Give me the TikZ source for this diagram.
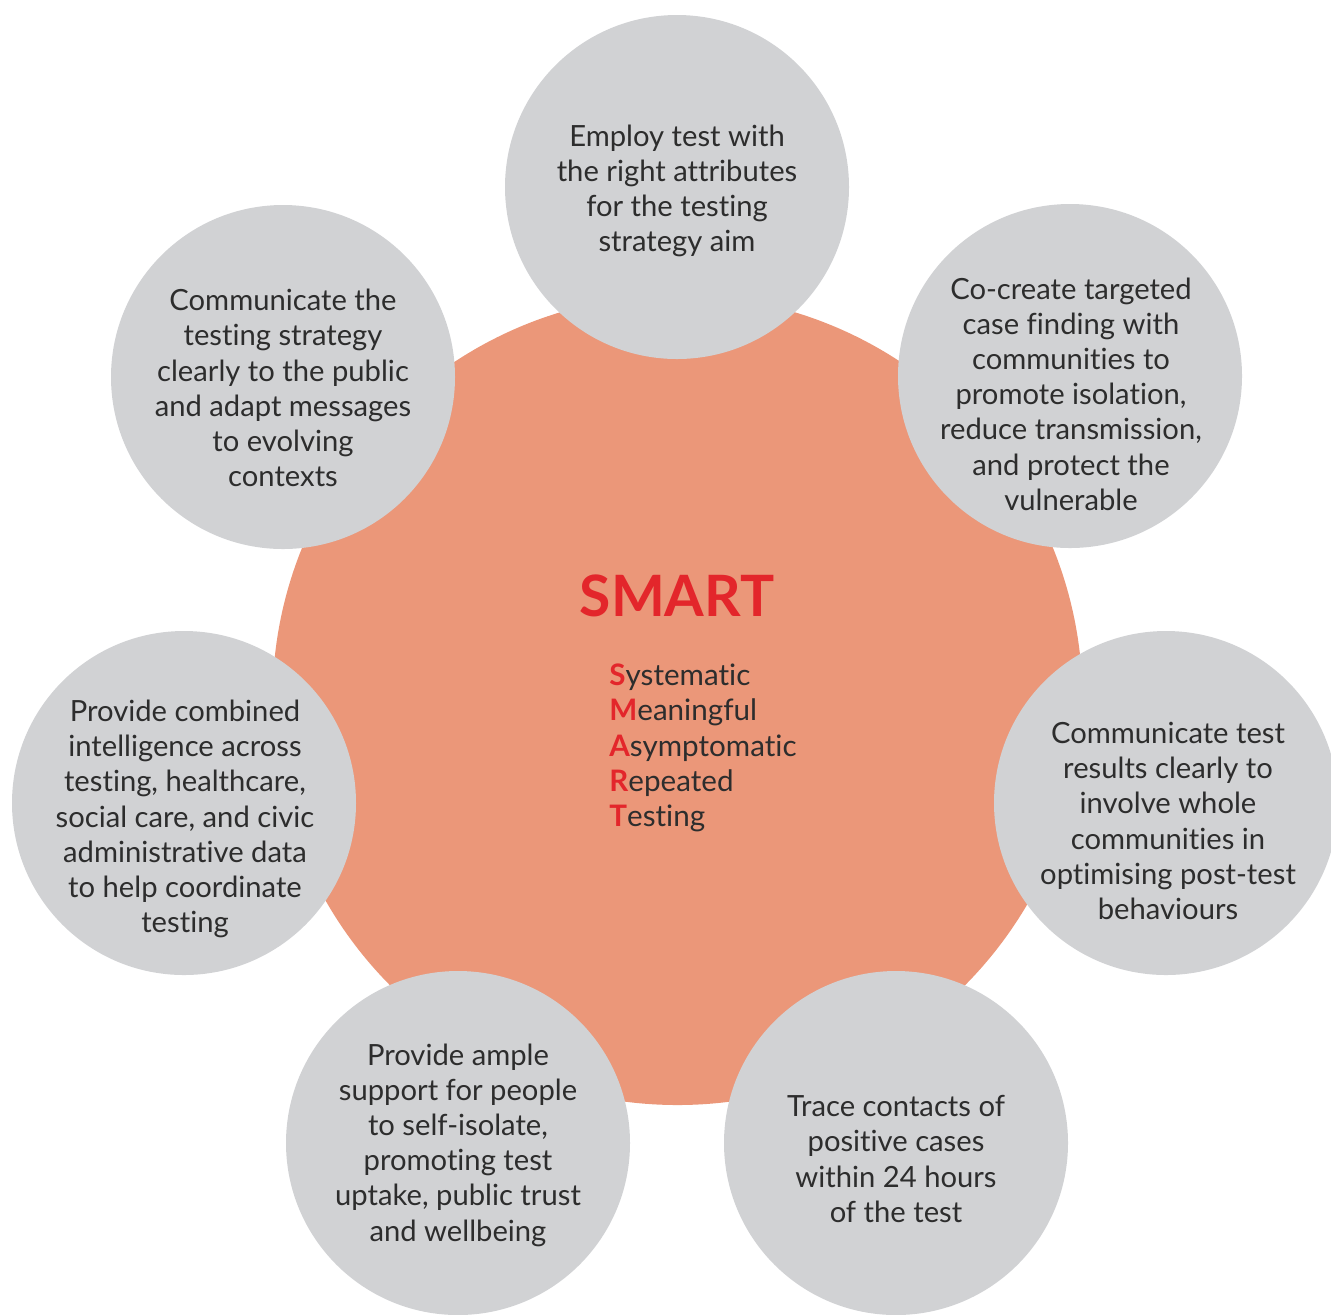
\documentclass[tikz,border=0pt]{standalone}
\usepackage{fontspec}
\setmainfont{Lato}[Ligatures=NoCommon]
\definecolor{smartorange}{RGB}{235,151,121}
\definecolor{smartgrey}{RGB}{209,210,212}
\definecolor{smartred}{RGB}{227,38,43}
\definecolor{smarttext}{RGB}{45,45,45}
\newcommand{\redini}[1]{{\color{smartred}\bfseries #1}}
\begin{document}
\begin{tikzpicture}[x=0.5pt,y=0.5pt,yscale=-1,xscale=1,
  hub/.style={circle,fill=smartorange,inner sep=0pt,minimum size=405pt},
  bubble/.style={circle,fill=smartgrey,inner sep=0pt,minimum size=172pt},
  bubtext/.style={align=center,inner sep=0pt,text=smarttext,font=\fontsize{14.6}{17.6}\selectfont}]
\useasboundingbox (0,0) rectangle (1331,1314);

%Shape: Circle [id:hub]
\node [hub] (hub) at (677.5,700) {};

%Shape: Circle [id:aim]
\node [bubble] (aim) at (677,187) {};
%Shape: Circle [id:cocreate]
\node [bubble] (cocreate) at (1070,376) {};
%Shape: Circle [id:results]
\node [bubble] (results) at (1166,803) {};
%Shape: Circle [id:trace]
\node [bubble] (trace) at (896,1143) {};
%Shape: Circle [id:support]
\node [bubble] (support) at (458,1143) {};
%Shape: Circle [id:intel]
\node [bubble] (intel) at (184,803) {};
%Shape: Circle [id:strategy]
\node [bubble] (strategy) at (283,377) {};

% Text Node
\node [inner sep=0pt,text=smartred,font=\fontsize{28.5}{34}\selectfont\bfseries] (title) at (677,596) {SMART};
% Text Node
\node [anchor=west,align=left,inner sep=0pt,text=smarttext,font=\fontsize{14.8}{17.6}\selectfont] (acronym) at (609,748) {\redini{S}ystematic\\ \redini{M}eaningful\\ \redini{A}symptomatic\\ \redini{R}epeated\\ \redini{T}esting};

% Text Node
\node [bubtext] (aimtxt) at (677,191) {Employ test with\\ the right attributes\\ for the testing\\ strategy aim};
% Text Node
\node [bubtext] (cocreatetxt) at (1071,394) {Co-create targeted\\ case finding with\\ communities to\\ promote isolation,\\ reduce transmission,\\ and protect the\\ vulnerable};
% Text Node
\node [bubtext] (resultstxt) at (1168,821) {Communicate test\\ results clearly to\\ involve whole\\ communities in\\ optimising post-test\\ behaviours};
% Text Node
\node [bubtext] (tracetxt) at (896,1159) {Trace contacts of\\ positive cases\\ within 24 hours\\ of the test};
% Text Node
\node [bubtext] (supporttxt) at (458,1145) {Provide ample\\ support for people\\ to self-isolate,\\ promoting test\\ uptake, public trust\\ and wellbeing};
% Text Node
\node [bubtext] (inteltxt) at (185,819) {Provide combined\\ intelligence across\\ testing, healthcare,\\ social care, and civic\\ administrative data\\ to help coordinate\\ testing};
% Text Node
\node [bubtext] (strategytxt) at (283,388) {Communicate the\\ testing strategy\\ clearly to the public\\ and adapt messages\\ to evolving\\ contexts};

\end{tikzpicture}
\end{document}
